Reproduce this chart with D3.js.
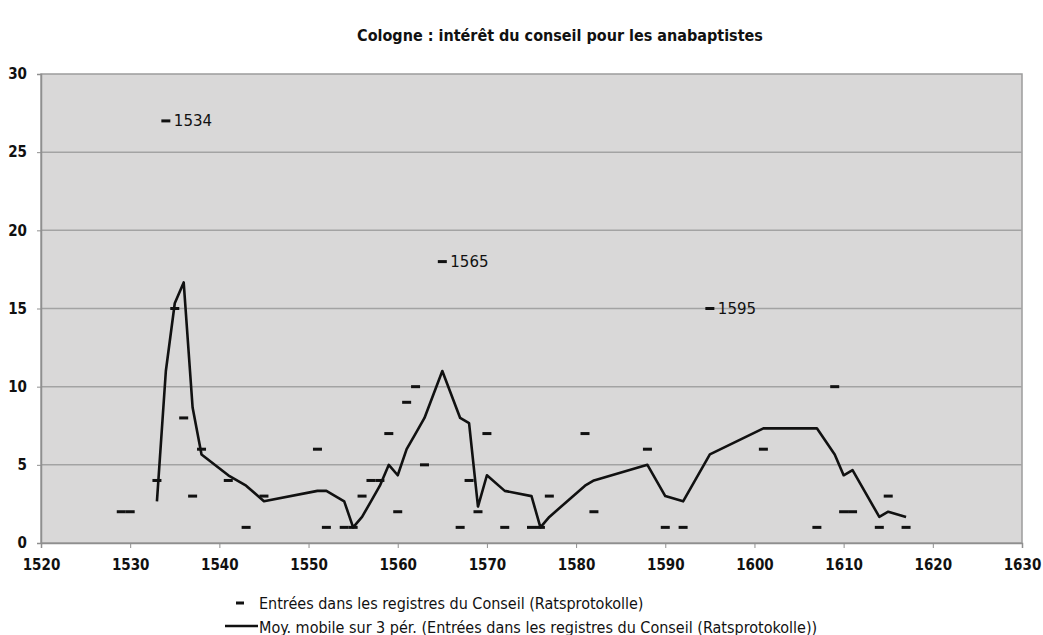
<!DOCTYPE html>
<html>
<head>
<meta charset="utf-8">
<script src="https://cdn.jsdelivr.net/npm/d3@7"></script>
<style>
  body { margin: 0; background: #fff; }
  text { font-family: "DejaVu Sans", Verdana, sans-serif; fill: #111; }
</style>
</head>
<body>
<svg id="chart" width="1043" height="635"></svg>
<script>
// entries in the council registers, per year
var years = [1529, 1530, 1533, 1534, 1535, 1536, 1537, 1538, 1541, 1543, 1545,
             1551, 1552, 1554, 1555, 1556, 1557, 1558, 1559, 1560, 1561, 1562, 1563,
             1565, 1567, 1568, 1569, 1570, 1572, 1575, 1576, 1577, 1581, 1582, 1588,
             1590, 1592, 1595, 1601, 1607, 1609, 1610, 1611, 1614, 1615, 1617];
var entries = [2, 2, 4, 27, 15, 8, 3, 6, 4, 1, 3,
               6, 1, 1, 1, 3, 4, 4, 7, 2, 9, 10, 5,
               18, 1, 4, 2, 7, 1, 1, 1, 3, 7, 2, 6,
               1, 1, 15, 6, 1, 10, 2, 2, 1, 3, 1];
var labelledYears = [1534, 1565, 1595];

var xTicks = [1520, 1530, 1540, 1550, 1560, 1570, 1580, 1590, 1600, 1610, 1620, 1630];
var yTicks = [0, 5, 10, 15, 20, 25, 30];

var title = "Cologne : intérêt du conseil pour les anabaptistes";
var legendLabels = [
  "Entrées dans les registres du Conseil (Ratsprotokolle)",
  "Moy. mobile sur 3 pér. (Entrées dans les registres du Conseil (Ratsprotokolle))"
];

var points = years.map(function (y, i) { return {year: y, value: entries[i]}; });

// 3-period moving average (the excel trendline)
var movAvg = [];
for (var i = 2; i < points.length; i++) {
  movAvg.push({
    year: points[i].year,
    value: d3.mean(points.slice(i - 2, i + 1), function (d) { return d.value; })
  });
}

var margin = {top: 74, right: 21, bottom: 92, left: 41};
var svg = d3.select('#chart');
var width = 1043 - margin.left - margin.right;
var height = 635 - margin.top - margin.bottom;

var x = d3.scaleLinear().domain([1520, 1630]).range([0, width]);
var y = d3.scaleLinear().domain([0, 30]).range([height, 0]);

var condensed = '"DejaVu Sans Condensed", "DejaVu Sans", sans-serif';

svg.append('text')
  .attr('x', 560)
  .attr('y', 41)
  .attr('text-anchor', 'middle')
  .style('font-family', condensed)
  .style('font-weight', 'bold')
  .style('font-size', '16px')
  .text(title);

var main = svg.append('g')
  .attr('transform', 'translate(' + margin.left + ',' + margin.top + ')');

main.append('rect')
  .attr('width', width)
  .attr('height', height)
  .attr('fill', '#d9d8d8')
  .attr('stroke', '#9c9c9c')
  .attr('stroke-width', 1.5);

// gridlines
main.selectAll('.grid')
  .data(yTicks.slice(1, -1))
  .enter().append('line')
    .attr('x1', 0)
    .attr('x2', width)
    .attr('y1', function (d) { return y(d); })
    .attr('y2', function (d) { return y(d); })
    .attr('stroke', '#a3a3a3')
    .attr('stroke-width', 1.5);

var xAxis = main.append('g')
  .attr('transform', 'translate(0,' + height + ')')
  .call(d3.axisBottom(x).tickValues(xTicks).tickFormat(d3.format('d')).tickSize(5).tickPadding(11));

var yAxis = main.append('g')
  .call(d3.axisLeft(y).tickValues(yTicks).tickSize(4).tickPadding(10));

[xAxis, yAxis].forEach(function (ax) {
  ax.select('.domain').attr('stroke', '#8f8f8f').attr('stroke-width', 1.5);
  ax.selectAll('.tick line').attr('stroke', '#8f8f8f');
  ax.selectAll('.tick text')
    .style('font-family', condensed)
    .style('font-weight', 'bold')
    .style('font-size', '15px')
    .attr('fill', '#111');
});

// moving average line
var line = d3.line()
  .x(function (d) { return x(d.year); })
  .y(function (d) { return y(d.value); });

main.append('path')
  .datum(movAvg)
  .attr('d', line)
  .attr('fill', 'none')
  .attr('stroke', '#111')
  .attr('stroke-width', 2.6)
  .attr('stroke-linejoin', 'round');

// dash markers
main.selectAll('.dash')
  .data(points)
  .enter().append('rect')
    .attr('x', function (d) { return x(d.year) - 4.5; })
    .attr('y', function (d) { return y(d.value) - 1.5; })
    .attr('width', 9)
    .attr('height', 3)
    .attr('fill', '#111');

main.selectAll('.plabel')
  .data(points.filter(function (d) { return labelledYears.indexOf(d.year) >= 0; }))
  .enter().append('text')
    .attr('x', function (d) { return x(d.year) + 8; })
    .attr('y', function (d) { return y(d.value) + 5.5; })
    .style('font-size', '15px')
    .text(function (d) { return d.year; });

// legend
var legend = svg.append('g');
legend.append('rect')
  .attr('x', 236).attr('y', 601.5)
  .attr('width', 8).attr('height', 3)
  .attr('fill', '#111');
legend.append('line')
  .attr('x1', 225).attr('x2', 258)
  .attr('y1', 626).attr('y2', 626)
  .attr('stroke', '#111').attr('stroke-width', 2.6);
legend.selectAll('.ltext')
  .data(legendLabels)
  .enter().append('text')
    .attr('x', 259)
    .attr('y', function (d, i) { return 608.5 + i * 24; })
    .style('font-family', condensed)
    .style('font-size', '16px')
    .text(function (d) { return d; });
</script>
</body>
</html>
